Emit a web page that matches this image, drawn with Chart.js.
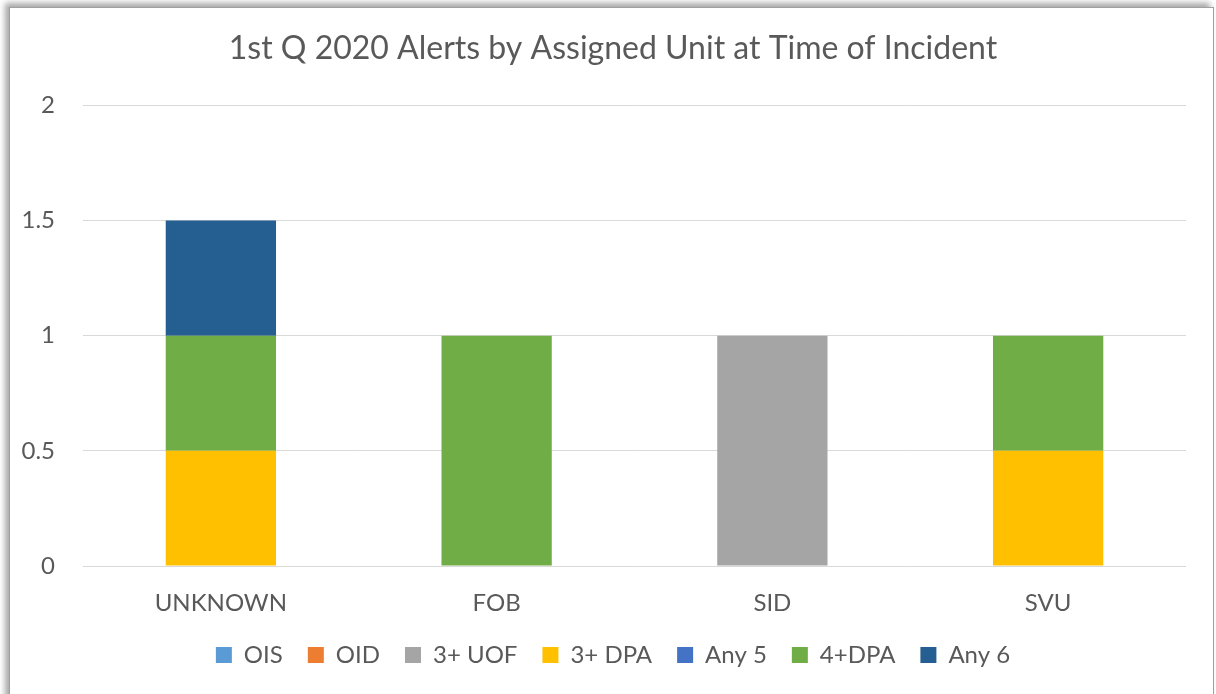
<!DOCTYPE html>
<html>
<head>
<meta charset="utf-8">
<script src="https://cdn.jsdelivr.net/npm/chart.js@4.4.0/dist/chart.umd.min.js"></script>
<style>
  html, body { margin: 0; padding: 0; background: #ffffff; width: 1216px; height: 694px; overflow: hidden; }
  #frame { position: absolute; left: 9px; top: 7px; width: 1203px; height: 700px; border: 1px solid #a0a0a0; box-shadow: -4px -4px 6px rgba(0,0,0,0.35); background: #ffffff; }
  #wrap { position: absolute; left: 0; top: 0; width: 1216px; height: 694px; }
</style>
</head>
<body>
<div id="frame"></div>
<div id="wrap"><canvas id="c" width="1216" height="694"></canvas></div>
<script>
const categories = ["UNKNOWN", "FOB", "SID", "SVU"];
const seriesNames = ["OIS", "OID", "3+ UOF", "3+ DPA", "Any 5", "4+DPA", "Any 6"];
const seriesColors = ["#5B9BD5", "#ED7D31", "#A5A5A5", "#FFC000", "#4472C4", "#70AD47", "#255E91"];
const ois   = [0, 0, 0, 0];
const oid   = [0, 0, 0, 0];
const uof3  = [0, 0, 1, 0];
const dpa3  = [0.5, 0, 0, 0.5];
const any5  = [0, 0, 0, 0];
const dpa4  = [0.5, 1, 0, 0.5];
const any6  = [0.5, 0, 0, 0];
const yMin = 0, yMax = 2, yStep = 0.5;

const seriesValues = [ois, oid, uof3, dpa3, any5, dpa4, any6];
const FONT = "Lato, 'Liberation Sans', sans-serif";
const TEXT = "#595959";
const PAD_L = 16, PAD_R = 6;

new Chart(document.getElementById("c"), {
  type: "bar",
  data: {
    labels: categories,
    datasets: seriesNames.map((n, i) => ({
      label: n,
      data: seriesValues[i],
      backgroundColor: seriesColors[i],
      borderWidth: 0,
      barPercentage: 1,
      categoryPercentage: 0.4
    }))
  },
  options: {
    responsive: false,
    animation: false,
    layout: { padding: { left: PAD_L, right: PAD_R, top: 29, bottom: 17 } },
    plugins: {
      title: {
        display: true,
        text: "1st Q 2020 Alerts by Assigned Unit at Time of Incident",
        color: TEXT,
        font: { family: FONT, size: 32, weight: "normal", lineHeight: 1.2 },
        padding: { top: 0, bottom: 38 }
      },
      legend: {
        position: "bottom",
        labels: {
          color: TEXT,
          font: { family: FONT, size: 24 },
          boxWidth: 16,
          boxHeight: 16,
          padding: 25
        }
      },
      tooltip: { enabled: false }
    },
    scales: {
      x: {
        stacked: true,
        grid: { display: false, drawTicks: false },
        border: { display: false },
        ticks: { color: TEXT, font: { family: FONT, size: 24 }, padding: 23 },
        afterFit(s) { s.height = 52; }
      },
      y: {
        stacked: true,
        min: yMin, max: yMax,
        grid: { color: "#D9D9D9", lineWidth: 1, drawTicks: false },
        border: { display: false },
        ticks: { stepSize: yStep, color: TEXT, font: { family: FONT, size: 24 }, padding: 28, callback: v => String(v) },
        afterFit(s) { s.width = 83 - PAD_L; }
      },
      yRight: {
        type: "linear",
        axis: "y",
        position: "right",
        min: yMin, max: yMax,
        grid: { display: false, drawTicks: false },
        border: { display: false },
        ticks: { display: false },
        afterFit(s) { s.width = 1216 - PAD_R - 1186; }
      }
    }
  }
});
</script>
</body>
</html>
